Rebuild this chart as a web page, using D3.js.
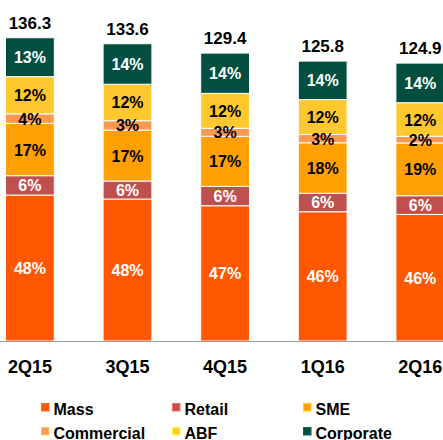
<!DOCTYPE html>
<html>
<head>
<meta charset="utf-8">
<script src="https://cdn.jsdelivr.net/npm/d3@7"></script>
<style>
  body { margin: 0; background: #fff; }
  svg { display: block; font-family: Arial, "Liberation Sans", sans-serif; }
</style>
</head>
<body>
<div id="chart"></div>
<script>
// quarters and totals
const quarters = ['2Q15', '3Q15', '4Q15', '1Q16', '2Q16'];
const totals = [136.3, 133.6, 129.4, 125.8, 124.9];

// segment sizes (same units as totals)
const mass       = [65.6, 63.8, 60.8, 58.1, 56.9];
const retail     = [8.7, 8.1, 8.7, 8.3, 8.4];
const sme        = [23.5, 22.9, 22.5, 22.7, 23.7];
const commercial = [4.3, 4.2, 3.6, 3.7, 3.0];
const abf        = [16.7, 16.4, 15.7, 15.7, 15.1];
const corporate  = [17.5, 18.2, 18.1, 17.3, 17.8];

// share labels printed in each segment
const massPct       = ['48%', '48%', '47%', '46%', '46%'];
const retailPct     = ['6%', '6%', '6%', '6%', '6%'];
const smePct        = ['17%', '17%', '17%', '18%', '19%'];
const commercialPct = ['4%', '3%', '3%', '3%', '2%'];
const abfPct        = ['12%', '12%', '12%', '12%', '12%'];
const corporatePct  = ['13%', '14%', '14%', '14%', '14%'];

const series = [
  {name: 'Mass',       vals: mass,       pct: massPct,       color: '#ff5800', text: '#fff'},
  {name: 'Retail',     vals: retail,     pct: retailPct,     color: '#c0504d', text: '#fff'},
  {name: 'SME',        vals: sme,        pct: smePct,        color: '#ffa000', text: '#000'},
  {name: 'Commercial', vals: commercial, pct: commercialPct, color: '#f99a50', text: '#000'},
  {name: 'ABF',        vals: abf,        pct: abfPct,        color: '#ffc82e', text: '#000'},
  {name: 'Corporate',  vals: corporate,  pct: corporatePct,  color: '#024f40', text: '#fff'}
];

const W = 443, H = 440;
const svg = d3.select('#chart').append('svg')
    .attr('width', W)
    .attr('height', H);

const x = d3.scaleBand()
    .domain(quarters)
    .range([-18.9, 469.1])
    .paddingInner(0.5)
    .paddingOuter(0.25);

const y = d3.scaleLinear()
    .domain([0, 140])
    .range([341, 341 - 140 * 2.225]);

// stack rows
const rows = quarters.map((q, i) => {
  const r = {q: q};
  series.forEach(s => { r[s.name] = s.vals[i]; });
  return r;
});
const stack = d3.stack().keys(series.map(s => s.name))(rows);

// bars first
stack.forEach((layer, k) => {
  const s = series[k];
  svg.append('g').selectAll('rect')
    .data(layer)
    .enter().append('rect')
      .attr('x', d => x(d.data.q))
      .attr('y', d => y(d[1]))
      .attr('width', x.bandwidth())
      .attr('height', d => y(d[0]) - y(d[1]))
      .attr('fill', s.color)
      .attr('stroke', '#fff')
      .attr('stroke-width', 1);
});

// then the share labels on top of all bars
stack.forEach((layer, k) => {
  const s = series[k];
  svg.append('g').selectAll('text')
    .data(layer)
    .enter().append('text')
      .attr('x', d => x(d.data.q) + x.bandwidth() / 2)
      .attr('y', d => (y(d[0]) + y(d[1])) / 2 + 6)
      .attr('text-anchor', 'middle')
      .attr('font-size', 16)
      .attr('font-weight', 'bold')
      .attr('fill', s.text)
      .text((d, i) => s.pct[i]);
});

// totals above bars
svg.append('g').selectAll('text')
  .data(quarters)
  .enter().append('text')
    .attr('x', d => x(d) + x.bandwidth() / 2)
    .attr('y', (d, i) => y(totals[i]) - 9)
    .attr('text-anchor', 'middle')
    .attr('font-size', 17)
    .attr('font-weight', 'bold')
    .attr('fill', '#000')
    .text((d, i) => totals[i].toFixed(1));

// baseline
svg.append('line')
  .attr('x1', 0).attr('x2', W)
  .attr('y1', y(0) + 0.5).attr('y2', y(0) + 0.5)
  .attr('stroke', '#999')
  .attr('stroke-width', 1);

// category labels
svg.append('g').selectAll('text')
  .data(quarters)
  .enter().append('text')
    .attr('x', d => x(d) + x.bandwidth() / 2)
    .attr('y', 373)
    .attr('text-anchor', 'middle')
    .attr('font-size', 18)
    .attr('font-weight', 'bold')
    .attr('fill', '#000')
    .text(d => d);

// legend, 3 columns x 2 rows
const legend = svg.append('g');
series.forEach((s, i) => {
  const col = i % 3, row = Math.floor(i / 3);
  const lx = 41 + col * 131, ly = 403 + row * 24;
  legend.append('rect')
    .attr('x', lx + 0.5).attr('y', ly + 0.5)
    .attr('width', 7.5).attr('height', 7.5)
    .attr('fill', s.color)
    .attr('stroke', d3.color(s.color).brighter(0.8))
    .attr('stroke-width', 1);
  legend.append('text')
    .attr('x', lx + 12.5)
    .attr('y', ly + 11.5)
    .attr('font-size', 16)
    .attr('font-weight', 'bold')
    .attr('fill', '#000')
    .text(s.name);
});
</script>
</body>
</html>
